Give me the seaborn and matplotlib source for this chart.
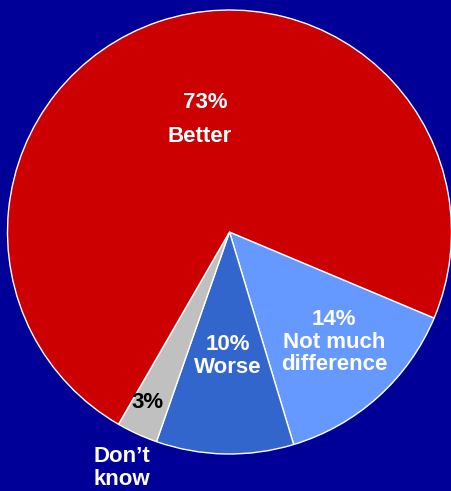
import matplotlib
matplotlib.use("Agg")
import matplotlib.pyplot as plt
import seaborn as sns

sns.set_theme(style="white")
plt.rcParams["font.family"] = ["Liberation Sans", "DejaVu Sans"]

# Survey answers, drawn clockwise from the light-blue slice
categories = ["Not much difference", "Worse", "Don't know", "Better"]
shares = [14, 10, 3, 73]
colors = ["#6699FF", "#3366CC", "#C0C0C0", "#CC0000"]

W, H = 451, 491
fig = plt.figure(figsize=(W / 100, H / 100), dpi=100, facecolor="#000099")

# Pie occupies a square of 444 px centred at (229.5, 232) from top-left
cx, cy, r = 229.5, 232.0, 222.0
ax = fig.add_axes([(cx - r) / W, (H - cy - r) / H, 2 * r / W, 2 * r / H])
ax.set_facecolor("#000099")

ax.pie(
    shares,
    colors=colors,
    startangle=-22.8,
    counterclock=False,
    radius=1.0,
    wedgeprops=dict(edgecolor="white", linewidth=1.0),
)
ax.set_xlim(-1, 1)
ax.set_ylim(-1, 1)
ax.set_aspect("auto")
ax.axis("off")


def px(x, y):
    return (x - cx) / r, (cy - y) / r


font = dict(fontsize=16, fontweight="bold", ha="center", va="center",
            linespacing=1.07)

ax.text(*px(205, 102), f"{shares[3]}%", color="white", **font)
ax.text(*px(199.5, 137), "Better", color="white", **font)
ax.text(*px(334, 342), f"{shares[0]}%\nNot much\ndifference", color="white", **font)
ax.text(*px(228, 356), f"{shares[1]}%\nWorse", color="white", **font)
ax.text(*px(148, 402), f"{shares[2]}%", color="black", **font)
ax.text(*px(122, 468), "Don\u2019t\nknow", color="white", clip_on=False, **font)

fig.savefig("out.png", dpi=100, facecolor=fig.get_facecolor())
